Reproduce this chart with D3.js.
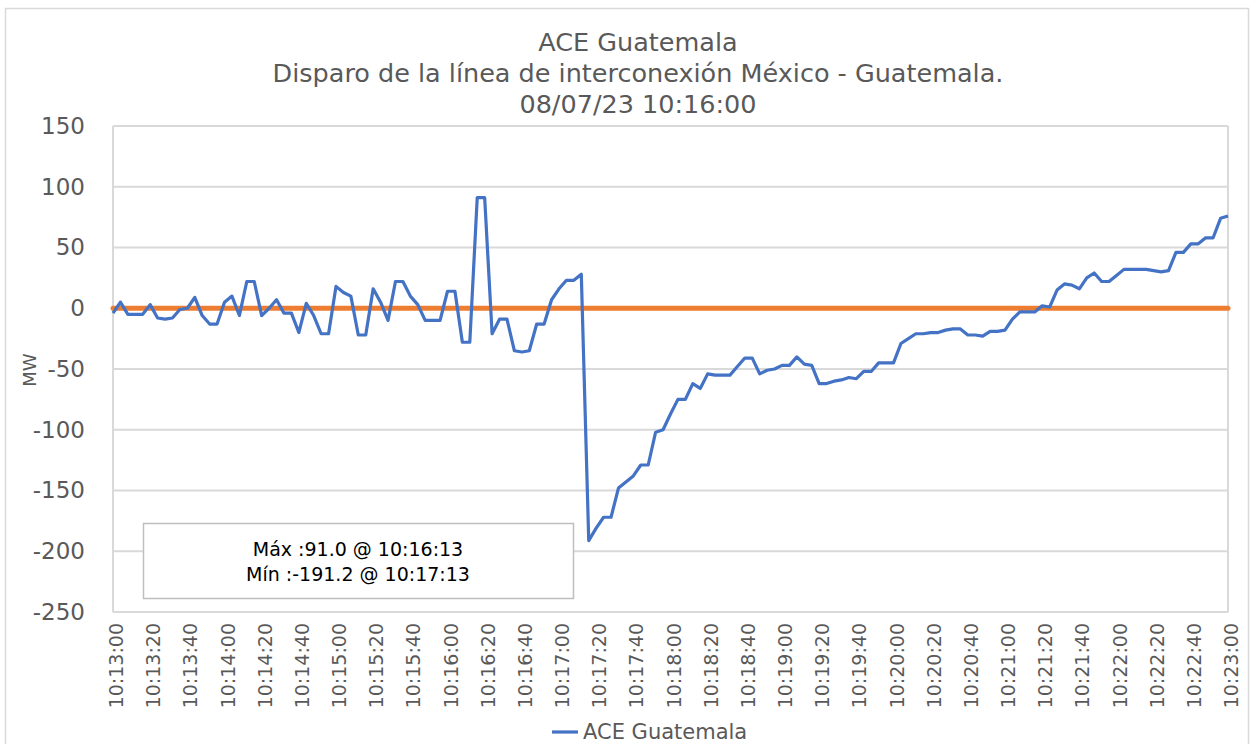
<!DOCTYPE html>
<html>
<head>
<meta charset="utf-8">
<script src="https://cdn.jsdelivr.net/npm/d3@7"></script>
<style>
    body { margin: 0; background: #ffffff; }
    text { font-family: "DejaVu Sans", sans-serif; }
</style>
</head>
<body>
<script>
    // Chart texts
    const titleLines = [
        'ACE Guatemala',
        'Disparo de la línea de interconexión México - Guatemala.',
        '08/07/23 10:16:00'
    ];
    const seriesName = 'ACE Guatemala';
    const yLabel = 'MW';
    const noteLines = ['Máx :91.0 @ 10:16:13', 'Mín :-191.2 @ 10:17:13'];

    // Samples of ACE (MW), one every 4 seconds from 10:13:00 to 10:23:00
    const sampleStart = '2023-07-08T10:13:00';
    const sampleStepSeconds = 4;
    const aceValues = [
        -4, 5, -5, -5, -5, 3, -8, -9, -8, -1,
        0, 9, -6, -13, -13, 5, 10, -6, 22, 22,
        -6, 0, 7, -4, -4, -20, 4, -6, -21, -21,
        18, 13, 10, -22, -22, 16, 5, -10, 22, 22,
        10, 3, -10, -10, -10, 14, 14, -28, -28, 91,
        91, -21, -9, -9, -35, -36, -35, -13, -13, 7,
        16, 23, 23, 28, -191.2, -181, -172, -172, -148, -143,
        -138, -129, -129, -102, -100, -87, -75, -75, -62, -66,
        -54, -55, -55, -55, -48, -41, -41, -54, -51, -50,
        -47, -47, -40, -46, -47, -62, -62, -60, -59, -57,
        -58, -52, -52, -45, -45, -45, -29, -25, -21, -21,
        -20, -20, -18, -17, -17, -22, -22, -23, -19, -19,
        -18, -9, -3, -3, -3, 2, 1, 15, 20, 19,
        16, 25, 29, 22, 22, 27, 32, 32, 32, 32,
        31, 30, 31, 46, 46, 53, 53, 58, 58, 74,
        76
    ];
    const referenceValue = 0;

    // Axis settings
    const yTicks = [150, 100, 50, 0, -50, -100, -150, -200, -250];
    const xStart = '2023-07-08T10:13:00';
    const xEnd = '2023-07-08T10:23:00';
    const xTickSeconds = 20;

    let width = 1253, height = 744;
    let margin = { top: 126, bottom: 132, left: 113, right: 25 };

    let parseTime = d3.isoParse;
    let t0 = parseTime(sampleStart);
    let data = aceValues.map((v, i) => ({
        time: new Date(t0.getTime() + i * sampleStepSeconds * 1000),
        value: v
    }));

    let svg = d3
        .select('body')
        .append('svg')
        .attr('width', width)
        .attr('height', height);

    // Chart frame
    svg.append('rect')
        .attr('x', 5.5)
        .attr('y', 8.5)
        .attr('width', 1243)
        .attr('height', 760)
        .attr('fill', 'none')
        .attr('stroke', '#d9d9d9')
        .attr('stroke-width', 1.5);

    // Scales
    let xScale = d3.scaleTime()
        .domain([parseTime(xStart), parseTime(xEnd)])
        .range([margin.left, width - margin.right]);

    let yScale = d3.scaleLinear()
        .domain([d3.min(yTicks), d3.max(yTicks)])
        .range([height - margin.bottom, margin.top]);

    // Titles
    svg.append('g')
        .selectAll('text')
        .data(titleLines)
        .enter()
        .append('text')
        .attr('x', 638)
        .attr('y', (d, i) => 51 + i * 31)
        .attr('text-anchor', 'middle')
        .attr('font-size', 25.5)
        .attr('fill', '#595959')
        .text(d => d);

    // Gridlines
    svg.append('g')
        .selectAll('line')
        .data(yTicks)
        .enter()
        .append('line')
        .attr('x1', margin.left)
        .attr('x2', width - margin.right)
        .attr('y1', d => yScale(d))
        .attr('y2', d => yScale(d))
        .attr('stroke', '#d9d9d9')
        .attr('stroke-width', 2);

    // Plot side borders
    svg.append('g')
        .selectAll('line')
        .data([margin.left, width - margin.right])
        .enter()
        .append('line')
        .attr('x1', d => d)
        .attr('x2', d => d)
        .attr('y1', yScale(d3.max(yTicks)))
        .attr('y2', yScale(d3.min(yTicks)))
        .attr('stroke', '#d9d9d9')
        .attr('stroke-width', 2);

    // Y axis
    let yAxis = svg
        .append('g')
        .attr('transform', `translate(${margin.left},0)`)
        .call(d3.axisLeft(yScale)
            .tickValues(yTicks)
            .tickFormat(d => String(d))
            .tickSize(0)
            .tickPadding(28));

    yAxis.select('.domain').remove();
    yAxis.selectAll('text')
        .attr('font-size', 23)
        .attr('font-family', '"DejaVu Sans", sans-serif')
        .attr('fill', '#595959');

    svg.append('text')
        .attr('transform', 'translate(36,370) rotate(-90)')
        .attr('text-anchor', 'middle')
        .attr('font-size', 18)
        .attr('fill', '#595959')
        .text(yLabel);

    // X axis
    let xAxis = svg
        .append('g')
        .attr('transform', `translate(0,${height - margin.bottom})`)
        .call(d3.axisBottom(xScale)
            .ticks(d3.timeSecond.every(xTickSeconds))
            .tickFormat(d3.timeFormat('%H:%M:%S'))
            .tickSize(0));

    xAxis.select('.domain').remove();
    xAxis.selectAll('text')
        .attr('font-size', 19)
        .attr('font-family', '"DejaVu Sans", sans-serif')
        .attr('fill', '#595959')
        .attr('text-anchor', 'end')
        .attr('transform', 'translate(3,11) rotate(-90)')
        .attr('x', 0)
        .attr('y', 0)
        .attr('dy', '0.35em');

    // Zero reference line
    svg.append('line')
        .attr('x1', xScale(parseTime(xStart)))
        .attr('x2', xScale(parseTime(xEnd)))
        .attr('y1', yScale(referenceValue))
        .attr('y2', yScale(referenceValue))
        .attr('stroke', '#ed7d31')
        .attr('stroke-width', 5)
        .attr('stroke-linecap', 'round');

    // ACE line
    let line = d3.line()
        .x(d => xScale(d.time))
        .y(d => yScale(d.value));

    svg.append('path')
        .datum(data)
        .attr('d', line)
        .attr('fill', 'none')
        .attr('stroke', '#4472c4')
        .attr('stroke-width', 3.2)
        .attr('stroke-linejoin', 'round');

    // Max / Min note
    svg.append('rect')
        .attr('x', 143.5)
        .attr('y', 523.5)
        .attr('width', 430)
        .attr('height', 75)
        .attr('fill', '#ffffff')
        .attr('stroke', '#bfbfbf')
        .attr('stroke-width', 1.5);

    svg.append('g')
        .selectAll('text')
        .data(noteLines)
        .enter()
        .append('text')
        .attr('x', 358)
        .attr('y', (d, i) => 556 + i * 25)
        .attr('text-anchor', 'middle')
        .attr('font-size', 19)
        .attr('fill', '#000000')
        .text(d => d);

    // Legend
    svg.append('line')
        .attr('x1', 552)
        .attr('x2', 578)
        .attr('y1', 732)
        .attr('y2', 732)
        .attr('stroke', '#4472c4')
        .attr('stroke-width', 3.2);

    svg.append('text')
        .attr('x', 583)
        .attr('y', 739)
        .attr('font-size', 21)
        .attr('fill', '#595959')
        .text(seriesName);
</script>
</body>
</html>
